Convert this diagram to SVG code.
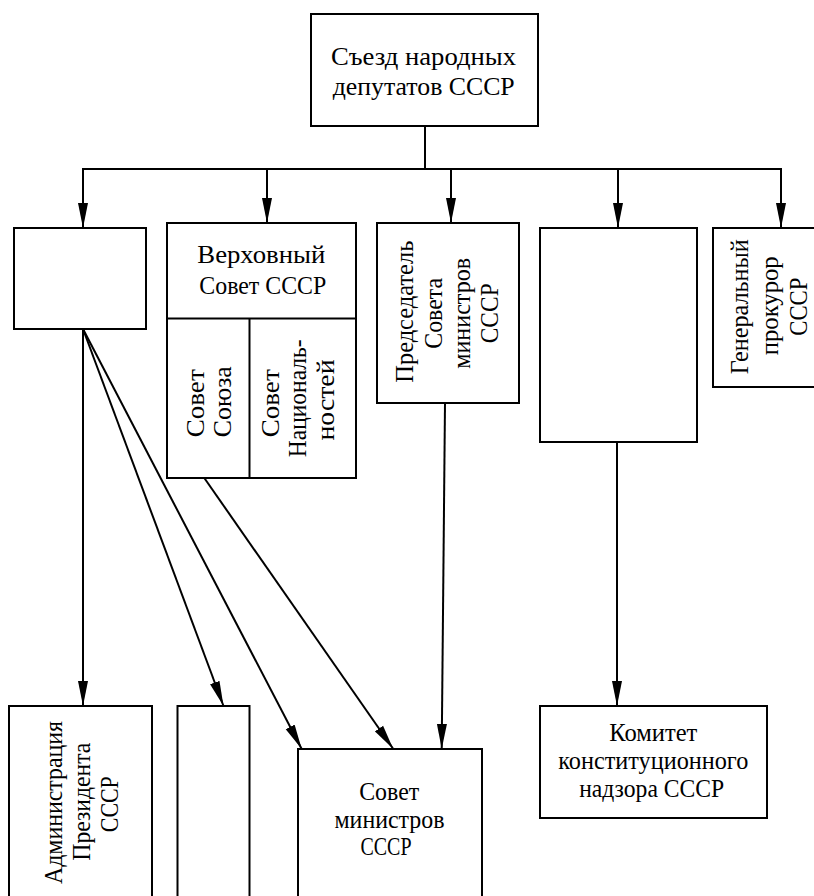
<svg xmlns="http://www.w3.org/2000/svg" width="814" height="896" viewBox="0 0 814 896">
<style>
.box{fill:#fff;stroke:#000;stroke-width:2}
.ln{fill:none;stroke:#000;stroke-width:2}
.arr{fill:none;stroke:#000;stroke-width:2;marker-end:url(#ah)}
text{font-family:"Liberation Serif","Times New Roman",serif;font-size:26px;fill:#000;text-anchor:middle}
text.v{font-size:25px}
</style>
<defs>
<marker id="ah" markerUnits="userSpaceOnUse" markerWidth="25" markerHeight="11" refX="25" refY="5.5" orient="auto">
<path d="M0,0.5 L25,5.5 L0,10.5 z" fill="#000"/>
</marker>
</defs>
<rect width="814" height="896" fill="#fff"/>
<g id="connectors">
<line class="ln" x1="425" y1="126" x2="425" y2="169"/>
<line class="ln" x1="82" y1="169" x2="782" y2="169"/>
<line class="arr" x1="83" y1="169" x2="83" y2="228"/>
<line class="arr" x1="267" y1="169" x2="267" y2="223"/>
<line class="arr" x1="451" y1="169" x2="451" y2="223"/>
<line class="arr" x1="618" y1="169" x2="618" y2="228"/>
<line class="arr" x1="781" y1="169" x2="781" y2="228"/>
<line class="arr" x1="83" y1="329" x2="83" y2="706"/>
<line class="arr" x1="83" y1="329" x2="223.5" y2="706"/>
<line class="arr" x1="83" y1="329" x2="301.7" y2="749"/>
<line class="arr" x1="204.3" y1="478" x2="393.3" y2="749"/>
<line class="arr" x1="445" y1="403" x2="441.7" y2="749"/>
<line class="arr" x1="617" y1="442" x2="617" y2="706"/>
</g>
<g id="congress">
<rect class="box" x="311" y="14" width="227" height="112"/>
<text x="423.5" y="65" textLength="185" lengthAdjust="spacingAndGlyphs">Съезд народных</text>
<text x="423.7" y="95" textLength="182" lengthAdjust="spacingAndGlyphs">депутатов СССР</text>
</g>
<g id="president">
<rect class="box" x="14" y="228" width="132" height="101"/>
</g>
<g id="supreme-soviet">
<rect class="box" x="167" y="223" width="189" height="255"/>
<line class="ln" x1="167" y1="318.5" x2="356" y2="318.5"/>
<line class="ln" x1="249.5" y1="318.5" x2="249.5" y2="478"/>
<text x="261.3" y="263" textLength="128" lengthAdjust="spacingAndGlyphs">Верховный</text>
<text x="262.8" y="294" textLength="127" lengthAdjust="spacingAndGlyphs">Совет СССР</text>
<text class="v" transform="translate(0,403.3) rotate(-90)" x="0" y="203.5" textLength="68" lengthAdjust="spacingAndGlyphs">Совет</text>
<text class="v" transform="translate(0,401.7) rotate(-90)" x="0" y="230.5" textLength="71" lengthAdjust="spacingAndGlyphs">Союза</text>
<text class="v" transform="translate(0,403.3) rotate(-90)" x="0" y="278.5" textLength="68" lengthAdjust="spacingAndGlyphs">Совет</text>
<text class="v" transform="translate(0,398.3) rotate(-90)" x="0" y="306.3" textLength="118" lengthAdjust="spacingAndGlyphs">Националь-</text>
<text class="v" transform="translate(0,400) rotate(-90)" x="0" y="333.5" textLength="81" lengthAdjust="spacingAndGlyphs">ностей</text>
</g>
<g id="chairman">
<rect class="box" x="377" y="223" width="142" height="180"/>
<text class="v" transform="translate(0,311.7) rotate(-90)" x="0" y="413" textLength="142" lengthAdjust="spacingAndGlyphs">Председатель</text>
<text class="v" transform="translate(0,313.3) rotate(-90)" x="0" y="441.5" textLength="71" lengthAdjust="spacingAndGlyphs">Совета</text>
<text class="v" transform="translate(0,313.3) rotate(-90)" x="0" y="470" textLength="111" lengthAdjust="spacingAndGlyphs">министров</text>
<text class="v" transform="translate(0,313.3) rotate(-90)" x="0" y="498.3" textLength="60" lengthAdjust="spacingAndGlyphs">СССР</text>
</g>
<g id="unnamed-right">
<rect class="box" x="540" y="228" width="157" height="214"/>
</g>
<g id="prosecutor">
<rect class="box" x="713" y="228" width="120" height="159"/>
<text class="v" transform="translate(0,306.7) rotate(-90)" x="0" y="748.3" textLength="135" lengthAdjust="spacingAndGlyphs">Генеральный</text>
<text class="v" transform="translate(0,305.8) rotate(-90)" x="0" y="777.5" textLength="99" lengthAdjust="spacingAndGlyphs">прокурор</text>
<text class="v" transform="translate(0,306.7) rotate(-90)" x="0" y="806.7" textLength="58" lengthAdjust="spacingAndGlyphs">СССР</text>
</g>
<g id="administration">
<rect class="box" x="9" y="706" width="143" height="210"/>
<text class="v" transform="translate(0,802.5) rotate(-90)" x="0" y="61.7" textLength="163" lengthAdjust="spacingAndGlyphs">Администрация</text>
<text class="v" transform="translate(0,801.7) rotate(-90)" x="0" y="90" textLength="118" lengthAdjust="spacingAndGlyphs">Президента</text>
<text class="v" transform="translate(0,804.2) rotate(-90)" x="0" y="118.3" textLength="56" lengthAdjust="spacingAndGlyphs">СССР</text>
</g>
<g id="unnamed-bottom">
<rect class="box" x="177.5" y="706" width="72" height="210"/>
</g>
<g id="council-ministers">
<rect class="box" x="298" y="749" width="184" height="170"/>
<text class="v" x="389.2" y="800" textLength="60" lengthAdjust="spacingAndGlyphs">Совет</text>
<text class="v" x="389.5" y="827.5" textLength="110" lengthAdjust="spacingAndGlyphs">министров</text>
<text class="v" x="386" y="855" textLength="51" lengthAdjust="spacingAndGlyphs">СССР</text>
</g>
<g id="committee">
<rect class="box" x="540" y="706" width="227" height="112"/>
<text class="v" x="653.3" y="741" textLength="88" lengthAdjust="spacingAndGlyphs">Комитет</text>
<text class="v" x="653.3" y="768.5" textLength="190" lengthAdjust="spacingAndGlyphs">конституционного</text>
<text class="v" x="651.7" y="796.5" textLength="145" lengthAdjust="spacingAndGlyphs">надзора СССР</text>
</g>
</svg>
